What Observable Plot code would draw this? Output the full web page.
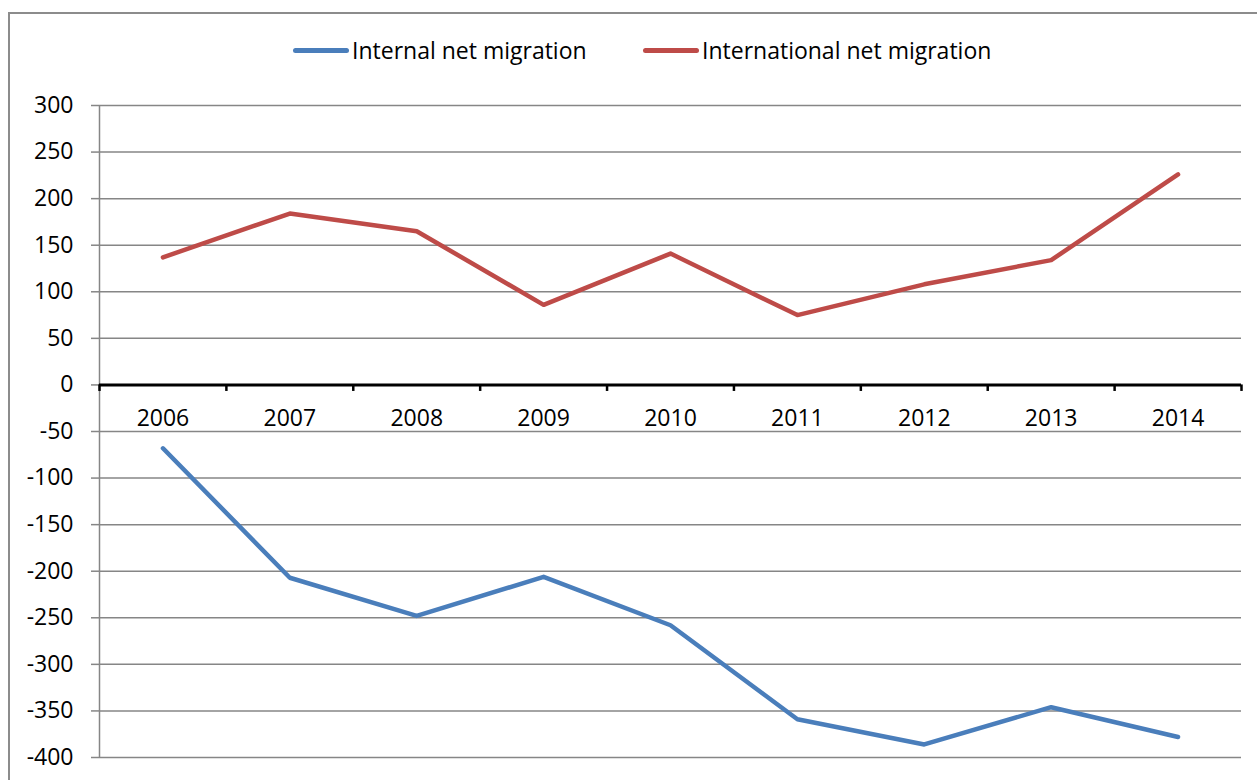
<!DOCTYPE html>
<html>
<head>
<meta charset="utf-8">
<script src="https://cdn.jsdelivr.net/npm/d3@7"></script>
<script src="https://cdn.jsdelivr.net/npm/@observablehq/plot@0.6"></script>
<style>
  html, body { margin: 0; padding: 0; background: #fff; }
  body { width: 1257px; height: 780px; overflow: hidden; position: relative; font-family: "Open Sans", sans-serif; }
  #frame { position: absolute; left: 8px; top: 12px; width: 1400px; height: 900px; border-left: 2px solid #8c8c8c; border-top: 2px solid #8c8c8c; box-sizing: border-box; }
  #chart { position: absolute; left: 0; top: 0; }
  #legend { position: absolute; top: 32px; left: 0; width: 1257px; height: 36px; font-size: 23px; color: #000; }
  .item { position: absolute; top: 0; display: flex; align-items: center; height: 36px; }
  .swatch { width: 56px; height: 5px; border-radius: 3px; margin-right: 3px; }
</style>
</head>
<body>
<div id="frame"></div>
<div id="chart"></div>
<div id="legend"></div>
<script>
const years = [2006, 2007, 2008, 2009, 2010, 2011, 2012, 2013, 2014];
const internalNet = [-68, -207, -248, -206, -258, -359, -386, -346, -378];
const internationalNet = [137, 184, 165, 86, 141, 75, 108, 134, 226];
const seriesNames = ["Internal net migration", "International net migration"];
const seriesColors = ["#4A7EBB", "#BE4B48"];
const yTicks = d3.range(-400, 301, 50);

const rows = [];
years.forEach((yr, i) => {
  rows.push({year: yr, value: internalNet[i], series: seriesNames[0]});
  rows.push({year: yr, value: internationalNet[i], series: seriesNames[1]});
});
const boundaries = d3.range(years[0] - 0.5, years[years.length - 1] + 1, 1);

const chart = Plot.plot({
  width: 1257,
  height: 780,
  marginLeft: 99,
  marginRight: 16,
  marginTop: 105,
  marginBottom: 23,
  style: {fontFamily: "Open Sans, sans-serif", fontSize: "23px", color: "#000", background: "transparent"},
  x: {domain: [years[0] - 0.5, years[years.length - 1] + 0.5], axis: null},
  y: {domain: [-400, 300], axis: null},
  color: {domain: seriesNames, range: seriesColors},
  marks: [
    Plot.gridY(yTicks, {stroke: "#868686", strokeOpacity: 1, strokeWidth: 1.5}),
    Plot.axisY(yTicks, {label: null, tickSize: 8, tickPadding: 18, stroke: "#868686", strokeWidth: 1.5, tickFormat: d => String(d), fontSize: 23, fill: "#000"}),
    Plot.ruleX([boundaries[0]], {stroke: "#868686", strokeWidth: 1.5}),
    Plot.ruleY([0], {stroke: "#000", strokeWidth: 3}),
    Plot.ruleX(boundaries, {x: d => d, y1: 0, y2: -7, stroke: "#000", strokeWidth: 2.5}),
    Plot.text(years, {x: d => d, y: 0, dy: 34, text: d => String(d), fontSize: 23, fill: "#000", textAnchor: "middle", lineAnchor: "middle"}),
    Plot.line(rows, {x: "year", y: "value", z: "series", stroke: "series", strokeWidth: 4.5, strokeLinecap: "round", strokeLinejoin: "round"})
  ]
});
document.getElementById("chart").appendChild(chart);

const legend = document.getElementById("legend");
const legendLeft = [293, 643];
seriesNames.forEach((name, i) => {
  const item = document.createElement("div");
  item.className = "item";
  item.style.left = legendLeft[i] + "px";
  const sw = document.createElement("div");
  sw.className = "swatch";
  sw.style.background = seriesColors[i];
  const label = document.createElement("span");
  label.textContent = name;
  item.appendChild(sw);
  item.appendChild(label);
  legend.appendChild(item);
});
</script>
</body>
</html>
